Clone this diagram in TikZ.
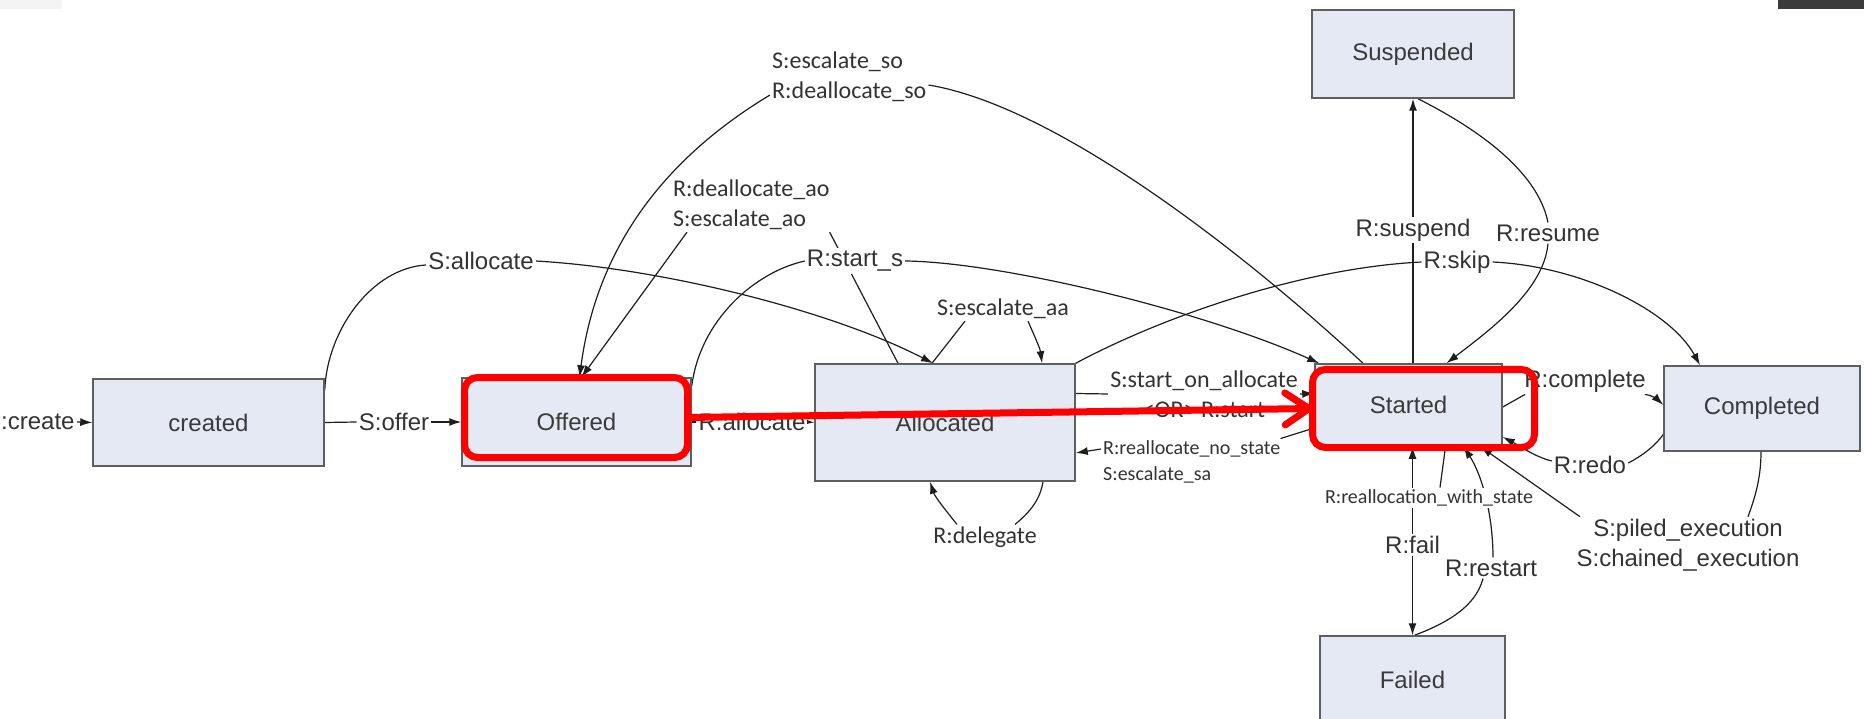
\documentclass[tikz,border=0pt]{standalone}
\usepackage{fontspec}
\setmainfont{Liberation Sans}
\newfontfamily\calib{Carlito}
\usetikzlibrary{arrows.meta,calc}
\pgfdeclarelayer{bg}
\pgfdeclarelayer{fg}
\pgfsetlayers{bg,main,fg}
\definecolor{nodefill}{HTML}{E4E9F3}
\definecolor{nodeborder}{HTML}{5F5F5F}
\definecolor{nodetext}{HTML}{3A3A3A}
\definecolor{txt}{HTML}{333333}
\definecolor{linec}{HTML}{1E1E1E}
\definecolor{annot}{HTML}{FF0000}
\definecolor{darkbar}{HTML}{3B3B3B}
\definecolor{faint}{HTML}{F4F4F4}
\newcommand\fsbig{\fontsize{24}{30}\selectfont}
\newcommand\fssmall{\fontsize{20}{26}\selectfont}
\tikzset{
 stbox/.style={rectangle, draw=nodeborder, line width=1.5pt, fill=nodefill, inner sep=0pt, text=nodetext, font=\fsbig},
 lbl/.style={fill=white, inner sep=2pt, text=txt, font=\fsbig},
 clbl/.style={fill=white, inner sep=2pt, text=txt, font=\calib\fsbig},
 slbl/.style={fill=white, inner sep=2pt, text=txt, font=\calib\fssmall},
 conn/.style={draw=linec, line width=1.2pt},
 arr/.style={-{Latex[length=12pt,width=8pt]}},
 redbox/.style={draw=annot, line width=7pt, rounded corners=13pt, inner sep=0pt, outer sep=0pt},
 redarrow/.style={draw=annot, line width=7pt, line cap=round, -{Straight Barb[length=24pt,width=32pt,round]}},
}
\begin{document}
\begin{tikzpicture}[x=1pt,y=-1pt]
\useasboundingbox (0,0) rectangle (1864,719);
\begin{pgfonlayer}{bg}
\fill[white] (0,0) rectangle (1864,719);
\end{pgfonlayer}
\fill[faint] (0,0) rectangle (62,9);
\fill[darkbar] (1778,0) rectangle (1864,9);

% states
\node[stbox,minimum width=231pt,minimum height=87pt] (created) at (208.5,422.5) {created};
\node[stbox,minimum width=229pt,minimum height=88pt] (Offered) at (576.5,422) {Offered};
\node[stbox,minimum width=260pt,minimum height=117pt] (Allocated) at (945,422.5) {Allocated};
\node[stbox,minimum width=187pt,minimum height=82pt] (Started) at (1408.5,405) {Started};
\node[stbox,minimum width=196pt,minimum height=85pt] (Completed) at (1762,408.5) {Completed};
\node[stbox,minimum width=202pt,minimum height=88pt] (Suspended) at (1413,54) {Suspended};
\node[stbox,minimum width=185pt,minimum height=88pt] (Failed) at (1412.5,680) {Failed};

% labels
\node[lbl,anchor=west] (lcreate) at (-1,422) {:create};
\node[lbl] (loffer) at (394,422) {S:offer};
\node[lbl] (lrallocate) at (752,422) {R:allocate};
\node[lbl] (lsallocate) at (481,261) {S:allocate};
\node[clbl,align=left,anchor=west] (lso) at (770,77) {S:escalate\_so\\R:deallocate\_so};
\node[clbl,align=left,anchor=west] (lao) at (671,205) {R:deallocate\_ao\\S:escalate\_ao};
\node[lbl] (lstarts) at (855,261) {R:start\_s};
\node[clbl] (lescaa) at (1003,309) {S:escalate\_aa};
\node[clbl] (ldelegate) at (985,537) {R:delegate};
\node[clbl,align=center] (lsoa) at (1204,394) {S:start\_on\_allocate\\<OR> R:start};
\node[slbl,align=left,anchor=west] (lnostate) at (1101,462) {R:reallocate\_no\_state\\S:escalate\_sa};
\node[lbl] (lsuspend) at (1413,230) {R:suspend};
\node[lbl] (lresume) at (1548,233) {R:resume};
\node[lbl] (lskip) at (1457,262) {R:skip};
\node[lbl] (lcomplete) at (1585,381) {R:complete};
\node[lbl] (lredo) at (1590,465) {R:redo};
\node[lbl,align=center] (lpiled) at (1688,545) {S:piled\_execution\\S:chained\_execution};
\node[slbl] (lrws) at (1429,498) {R:reallocation\_with\_state};
\node[lbl] (lfail) at (1412.5,545) {R:fail};
\node[lbl] (lrestart) at (1491,568) {R:restart};

\begin{pgfonlayer}{bg}
% create / offer / allocate
\draw[conn,arr] (lcreate.east) -- (created.west);
\draw[conn] (created.east) -- (loffer.west);
\draw[conn,arr] (loffer.east) -- (Offered.west);
\draw[conn] (Offered.east) -- (lrallocate.west);
\draw[conn,arr] (lrallocate.east) -- (Allocated.west);
% S:allocate
\draw[conn] ([yshift=-12pt]created.north east) .. controls (327,330) and (372,268) .. ([yshift=-4pt]lsallocate.west);
\draw[conn,arr] (lsallocate.east) .. controls (660,268) and (830,310) .. ([xshift=-12pt]Allocated.north);
% R:start_s
\draw[conn] ([yshift=-9pt]Offered.north east) .. controls (700,320) and (755,272) .. (lstarts.west);
\draw[conn,arr] (lstarts.east) .. controls (1000,262) and (1200,310) .. ([xshift=5pt]Started.north west);
% escalate_so
\draw[conn] ([xshift=-45.5pt]Started.north) .. controls (1230,240) and (1050,105) .. ([yshift=-8pt]lso.east);
\draw[conn,arr] ([yshift=-18pt]lso.west) .. controls (667,157) and (597,245) .. ([xshift=3pt]Offered.north);
% deallocate_ao
\draw[conn] ([xshift=-47pt]Allocated.north) -- ([xshift=-2pt]lao.south east);
\draw[conn,arr] ([xshift=16pt]lao.south west) -- ([xshift=5pt]Offered.north);
% escalate_aa
\draw[conn] ([xshift=-13pt]Allocated.north) -- ([xshift=-38pt]lescaa.south);
\draw[conn,arr] ([xshift=25pt]lescaa.south) .. controls (1034,335) and (1040,348) .. ([xshift=97pt]Allocated.north);
% delegate
\draw[conn] ([xshift=98pt]Allocated.south) .. controls (1040,500) and (1030,512) .. ([xshift=30pt]ldelegate.north);
\draw[conn,arr] ([xshift=-28pt]ldelegate.north) .. controls (947,512) and (935,497) .. ([xshift=-15pt]Allocated.south);
% start_on_allocate
\draw[conn] ([yshift=29pt]Allocated.east) -- (lsoa.west);
\draw[conn,arr] (lsoa.east) -- ([yshift=11.5pt]Started.west);
% reallocate_no_state
\draw[conn] ([yshift=-23pt]Started.west) -- ([xshift=-2pt]lnostate.north east);
\draw[conn,arr] ([yshift=13pt]lnostate.west) -- ([yshift=-30.5pt]Allocated.east);
% suspend / resume
\draw[conn] ([xshift=4.5pt]Started.north) -- (lsuspend);
\draw[conn,arr] (lsuspend) -- (Suspended.south);
\draw[conn] ([xshift=5pt]Suspended.south) .. controls (1470,125) and (1537,168) .. (lresume.north);
\draw[conn,arr] (lresume.south) .. controls (1544,290) and (1490,330) .. ([xshift=38pt]Started.north);
% skip
\draw[conn] (Allocated.north east) .. controls (1160,318) and (1300,268) .. (lskip.west);
\draw[conn,arr] (lskip.east) .. controls (1580,266) and (1670,310) .. ([xshift=-62pt]Completed.north);
% complete
\draw[conn] ([yshift=-2pt]Started.east) -- ([xshift=3pt]lcomplete.south west);
\draw[conn,arr] ([xshift=-3pt]lcomplete.south east) .. controls (1652,395) and (1658,400) .. ([yshift=3.5pt]Completed.west);
% redo
\draw[conn] ([yshift=-26pt]Completed.west) .. controls (1655,446) and (1642,456) .. ([yshift=2pt]lredo.east);
\draw[conn,arr] ([yshift=4pt]lredo.west) .. controls (1535,457) and (1518,445) .. ([yshift=-32pt]Started.east);
% reallocation_with_state
\draw[conn] ([xshift=37pt]Started.south) -- ([xshift=11pt]lrws.north);
\draw[conn,arr] ([xshift=-16.5pt]lrws.north) -- ([xshift=4pt]Started.south);
% fail
\draw[conn] ([xshift=4pt]Started.south) -- (lfail);
\draw[conn,arr] (lfail) -- (Failed.north);
% restart
\draw[conn] ([xshift=2pt]Failed.north) .. controls (1450,622) and (1476,605) .. ([xshift=-8pt]lrestart.south);
\draw[conn,arr] ([xshift=2pt]lrestart.north) .. controls (1493,515) and (1482,475) .. ([xshift=55pt]Started.south);
% piled / chained
\draw[conn] ([xshift=-1pt]Completed.south) .. controls (1761,480) and (1754,500) .. ([xshift=60pt]lpiled.north);
\draw[conn,arr] ([xshift=-108pt]lpiled.north) -- ([xshift=72pt]Started.south);
\end{pgfonlayer}

\begin{pgfonlayer}{fg}
\node[redbox,minimum width=223pt,minimum height=80pt] (redO) at (576,417.5) {};
\node[redbox,minimum width=222pt,minimum height=78pt] (redS) at (1423.5,408.5) {};
\draw[redarrow] (redO.east) -- (redS.west);
\end{pgfonlayer}
\end{tikzpicture}
\end{document}
